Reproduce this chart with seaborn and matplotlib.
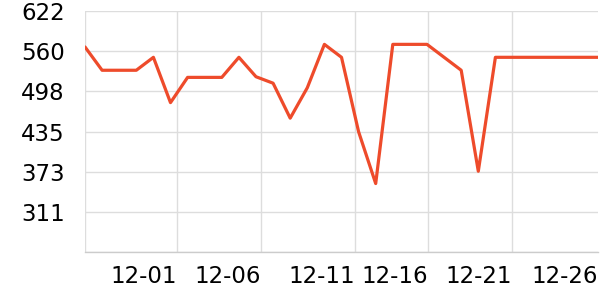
import matplotlib
matplotlib.use("Agg")
import matplotlib.pyplot as plt
import seaborn as sns
import pandas as pd

day_index = list(range(31))
values = [566, 530, 530, 530, 550, 480, 519, 519, 519, 550, 520, 510, 456, 503,
          570, 550, 435, 355, 570, 570, 570, 550, 530, 374, 550, 550, 550, 550,
          550, 550, 550]
x_tick_pos = [0, 5.38, 10.29, 15.79, 20.06, 24.97, 30]
x_tick_labels = ["", "12-01", "12-06", "12-11", "12-16", "12-21", "12-26"]
y_min, y_max = 248.8, 622.0
y_tick_labels = ["", "311", "373", "435", "498", "560", "622"]

sns.set_theme(style="white")
plt.rcParams["font.family"] = ["DejaVu Sans"]

df = pd.DataFrame({"day": day_index, "value": values})
fig = plt.figure(figsize=(6, 3), dpi=100)
ax = fig.add_axes([85 / 600, 1 - 252.3 / 300, (598 - 85) / 600, (252.3 - 10.7) / 300])
sns.lineplot(data=df, x="day", y="value", ax=ax, color="#ee4b2b", linewidth=2.3)

ax.set_xlim(0, 30)
ax.set_ylim(y_min, y_max)
step = (y_max - y_min) / 6
ax.set_yticks([y_min + i * step for i in range(7)])
ax.set_yticklabels(y_tick_labels)
ax.set_xticks(x_tick_pos)
ax.set_xticklabels(x_tick_labels, ha="right")
ax.set_xlabel("")
ax.set_ylabel("")

ax.grid(True, color="#dddddd", linewidth=1)
ax.set_axisbelow(True)
for s in ["top", "right", "left"]:
    ax.spines[s].set_visible(False)
ax.spines["bottom"].set_color("#cccccc")
ax.spines["bottom"].set_linewidth(1)
ax.tick_params(axis="y", length=0, pad=14.4, labelsize=16.5, colors="black")
ax.tick_params(axis="x", length=2.5, width=1, color="#cccccc", pad=6.3,
               labelsize=16.5, labelcolor="black", direction="out")
ax.xaxis.get_gridlines()[-1].set_visible(False)
ax.xaxis.get_major_ticks()[-1].tick1line.set_visible(False)

fig.savefig("out.png", dpi=100)
